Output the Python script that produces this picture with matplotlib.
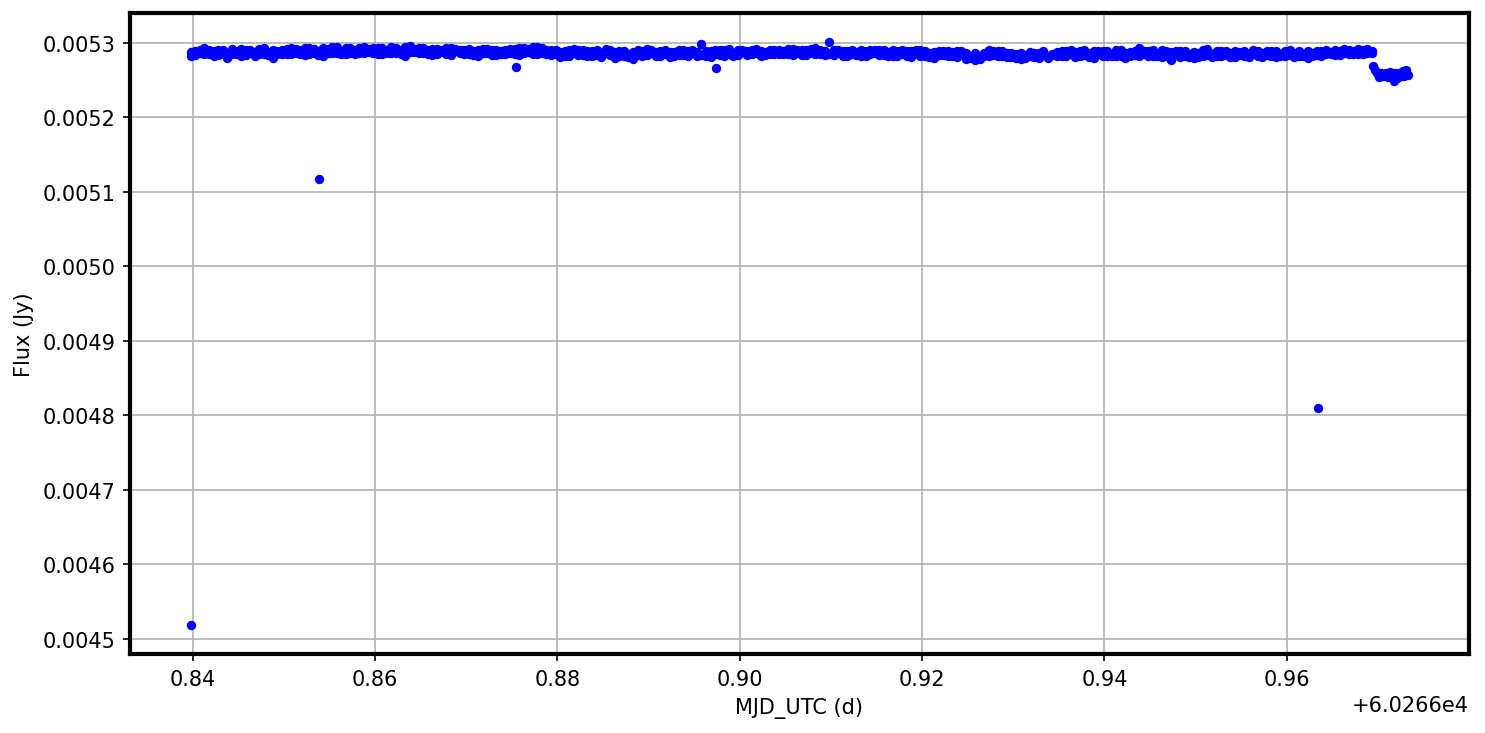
import numpy as np
import matplotlib.pyplot as plt

# time offsets in units of 1e-4 d after MJD 60266
t_band = [
    8398, 8403, 8408, 8413, 8418, 8423, 8428, 8433, 8438, 8443,
    8448, 8453, 8458, 8463, 8468, 8473, 8478, 8483, 8488, 8493,
    8498, 8503, 8508, 8513, 8518, 8523, 8528, 8533, 8538, 8543,
    8548, 8553, 8558, 8563, 8568, 8573, 8578, 8583, 8588, 8593,
    8598, 8603, 8608, 8613, 8618, 8623, 8628, 8633, 8638, 8643,
    8648, 8653, 8658, 8663, 8668, 8673, 8678, 8683, 8688, 8693,
    8698, 8703, 8708, 8713, 8718, 8723, 8728, 8733, 8738, 8743,
    8748, 8753, 8758, 8763, 8768, 8773, 8778, 8783, 8788, 8793,
    8798, 8803, 8808, 8813, 8818, 8823, 8828, 8833, 8838, 8843,
    8848, 8853, 8858, 8863, 8868, 8873, 8878, 8883, 8888, 8893,
    8898, 8903, 8908, 8913, 8918, 8923, 8928, 8933, 8938, 8943,
    8948, 8953, 8958, 8963, 8968, 8973, 8978, 8983, 8988, 8993,
    8998, 9003, 9008, 9013, 9018, 9023, 9028, 9033, 9038, 9043,
    9048, 9053, 9058, 9063, 9068, 9073, 9078, 9083, 9088, 9093,
    9098, 9103, 9108, 9113, 9118, 9123, 9128, 9133, 9138, 9143,
    9148, 9153, 9158, 9163, 9168, 9173, 9178, 9183, 9188, 9193,
    9198, 9203, 9208, 9213, 9218, 9223, 9228, 9233, 9238, 9243,
    9248, 9253, 9258, 9263, 9268, 9273, 9278, 9283, 9288, 9293,
    9298, 9303, 9308, 9313, 9318, 9323, 9328, 9333, 9338, 9343,
    9348, 9353, 9358, 9363, 9368, 9373, 9378, 9383, 9388, 9393,
    9398, 9403, 9408, 9413, 9418, 9423, 9428, 9433, 9438, 9443,
    9448, 9453, 9458, 9463, 9468, 9473, 9478, 9483, 9488, 9493,
    9498, 9503, 9508, 9513, 9518, 9523, 9528, 9533, 9538, 9543,
    9548, 9553, 9558, 9563, 9568, 9573, 9578, 9583, 9588, 9593,
    9598, 9603, 9608, 9613, 9618, 9623, 9628, 9633, 9638, 9643,
    9648, 9653, 9658, 9663, 9668, 9673, 9678, 9683, 9688, 9693,
]
# flux in units of 1e-7 Jy, first pass
f_band = [
    52820, 52895, 52860, 52925, 52850, 52890, 52840, 52905, 52870, 52855,
    52895, 52830, 52910, 52860, 52820, 52920, 52850, 52880, 52800, 52895,
    52910, 52850, 52935, 52870, 52900, 52840, 52925, 52860, 52890, 52830,
    52920, 52860, 52950, 52880, 52850, 52935, 52905, 52865, 52940, 52880,
    52870, 52925, 52850, 52905, 52950, 52860, 52910, 52830, 52960, 52880,
    52930, 52860, 52900, 52840, 52915, 52875, 52850, 52925, 52885, 52860,
    52910, 52850, 52890, 52825, 52920, 52870, 52900, 52840, 52885, 52850,
    52860, 52915, 52840, 52935, 52880, 52850, 52940, 52865, 52900, 52840,
    52850, 52810, 52890, 52830, 52860, 52905, 52840, 52885, 52825, 52910,
    52865, 52920, 52840, 52800, 52895, 52820, 52850, 52790, 52835, 52890,
    52920, 52860, 52830, 52895, 52850, 52815, 52880, 52840, 52910, 52825,
    52860, 52820, 52985, 52890, 52810, 52850, 52900, 52830, 52915, 52870,
    52910, 52875, 52895, 52850, 52860, 52830, 52880, 52845, 52900, 52855,
    52890, 52850, 52915, 52865, 52840, 52900, 52860, 52925, 52845, 52890,
    53010, 52900, 52860, 52830, 52895, 52850, 52880, 52820, 52890, 52850,
    52860, 52905, 52840, 52880, 52825, 52895, 52850, 52885, 52810, 52860,
    52900, 52830, 52860, 52800, 52890, 52840, 52820, 52880, 52805, 52850,
    52790, 52830, 52770, 52820, 52860, 52910, 52840, 52890, 52825, 52860,
    52810, 52850, 52790, 52835, 52820, 52870, 52800, 52840, 52825, 52855,
    52880, 52830, 52895, 52850, 52810, 52885, 52840, 52860, 52800, 52850,
    52890, 52820, 52855, 52905, 52830, 52800, 52880, 52840, 52925, 52850,
    52830, 52900, 52860, 52810, 52885, 52770, 52840, 52890, 52820, 52855,
    52800, 52870, 52830, 52920, 52850, 52820, 52885, 52840, 52860, 52810,
    52880, 52830, 52850, 52900, 52820, 52860, 52840, 52885, 52810, 52855,
    52890, 52840, 52865, 52820, 52850, 52800, 52860, 52835, 52885, 52850,
    52880, 52840, 52895, 52860, 52850, 52890, 52855, 52900, 52865, 52885,
]
# second pass, same cadence
f_band2 = [
    52880, 52835, 52910, 52845, 52905, 52830, 52910, 52850, 52800, 52915,
    52845, 52915, 52835, 52905, 52880, 52845, 52925, 52835, 52900, 52850,
    52850, 52920, 52855, 52915, 52845, 52930, 52850, 52915, 52840, 52925,
    52860, 52940, 52870, 52845, 52935, 52860, 52850, 52935, 52870, 52915,
    52930, 52850, 52935, 52860, 52870, 52935, 52850, 52945, 52875, 52920,
    52860, 52925, 52845, 52920, 52850, 52905, 52925, 52835, 52915, 52910,
    52845, 52915, 52840, 52905, 52860, 52915, 52835, 52905, 52845, 52910,
    52920, 52845, 52930, 52860, 52920, 52940, 52850, 52925, 52845, 52905,
    52900, 52880, 52830, 52900, 52915, 52835, 52900, 52820, 52890, 52840,
    52815, 52860, 52900, 52875, 52830, 52890, 52810, 52880, 52900, 52830,
    52835, 52900, 52880, 52825, 52905, 52880, 52830, 52900, 52840, 52890,
    52900, 52880, 52840, 52830, 52895, 52900, 52835, 52900, 52845, 52820,
    52840, 52910, 52835, 52905, 52915, 52895, 52840, 52905, 52845, 52910,
    52845, 52915, 52840, 52900, 52910, 52840, 52915, 52850, 52900, 52840,
    52850, 52840, 52910, 52895, 52830, 52910, 52835, 52900, 52830, 52905,
    52905, 52840, 52900, 52830, 52905, 52830, 52905, 52830, 52895, 52905,
    52830, 52895, 52810, 52880, 52840, 52895, 52885, 52820, 52885, 52890,
    52860, 52800, 52865, 52790, 52830, 52825, 52895, 52820, 52895, 52815,
    52870, 52800, 52865, 52800, 52880, 52815, 52860, 52885, 52800, 52835,
    52820, 52895, 52830, 52900, 52880, 52825, 52900, 52815, 52885, 52895,
    52830, 52895, 52820, 52830, 52910, 52870, 52820, 52895, 52830, 52895,
    52895, 52820, 52830, 52900, 52820, 52880, 52895, 52815, 52890, 52810,
    52880, 52815, 52905, 52835, 52815, 52895, 52825, 52895, 52815, 52890,
    52835, 52895, 52815, 52845, 52895, 52815, 52890, 52825, 52895, 52820,
    52830, 52900, 52815, 52895, 52820, 52890, 52825, 52895, 52830, 52905,
    52845, 52905, 52840, 52915, 52900, 52845, 52920, 52855, 52915, 52860,
]

# the step down at the very end
t_drop = [9695, 9697, 9699, 9701, 9703, 9705, 9707, 9709, 9711, 9713,
          9715, 9717, 9719, 9721, 9723, 9725, 9727, 9729, 9731, 9733]
f_drop = [52690, 52640, 52590, 52540, 52600, 52550, 52580, 52600, 52540, 52610,
          52560, 52490, 52590, 52530, 52600, 52560, 52620, 52550, 52630, 52570]

# isolated low points
t_out = [8398, 8539, 8755, 8974, 9634]
f_out = [45188, 51170, 52677, 52664, 48094]


def main():
    t = np.array(t_band + t_band + t_drop + t_out) * 1e-4 + 60266
    f = np.array(f_band + f_band2 + f_drop + f_out) * 1e-7

    fig = plt.figure(figsize=(9.9, 4.893), dpi=150)
    ax = fig.add_axes([0.0875, 0.1076, 0.9017, 0.8734])
    ax.plot(t, f, '.', color='blue', markersize=7)
    ax.set_xlabel('MJD_UTC (d)')
    ax.set_ylabel('Flux (Jy)')
    ax.grid(True)
    for s in ax.spines.values():
        s.set_linewidth(2)
    fig.savefig('out.png', dpi=150)


if __name__ == '__main__':
    main()
